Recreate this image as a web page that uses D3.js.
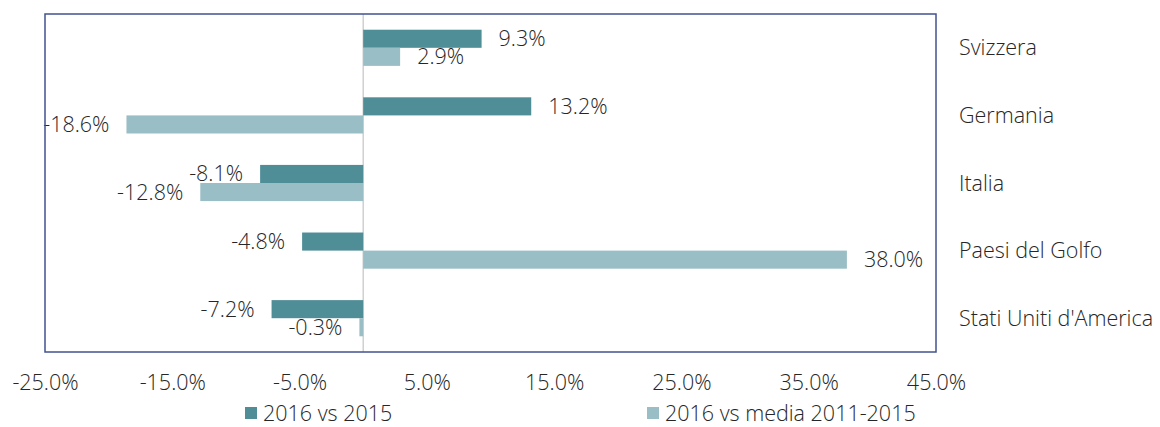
<!DOCTYPE html>
<html>
<head>
<meta charset="utf-8">
<script src="https://cdn.jsdelivr.net/npm/d3@7"></script>
<style>
  body { margin: 0; background: #fff; }
  text { font-family: "Open Sans", "Noto Sans", sans-serif; font-weight: 300; fill: #262626; }
</style>
</head>
<body>
<div id="general"></div>
<script>
const w = 1160, h = 427;
const m = { l: 45, t: 14, r: 936, b: 352 };

const categories = ["Svizzera", "Germania", "Italia", "Paesi del Golfo", "Stati Uniti d'America"];
const seriesNames = ["2016 vs 2015", "2016 vs media 2011-2015"];
const vs2015 = [9.3, 13.2, -8.1, -4.8, -7.2];
const vsMedia = [2.9, -18.6, -12.8, 38.0, -0.3];
const tickValues = [-25, -15, -5, 5, 15, 25, 35, 45];
const colors = ["#4f8d97", "#99bec5"];

const fs = 21.5;

const rows = [];
categories.forEach((c, i) => {
  rows.push({ cat: c, s: 0, v: vs2015[i] });
  rows.push({ cat: c, s: 1, v: vsMedia[i] });
});

const svg = d3.select("#general").append("svg").attr("width", w).attr("height", h);

const x = d3.scaleLinear().domain([-25, 45]).range([m.l, m.r]);
const y = d3.scaleBand().domain(categories).range([m.t, m.b]).paddingInner(0.465).paddingOuter(0.2325);
const ys = d3.scaleBand().domain([0, 1]).range([0, y.bandwidth()]);

// zero line
svg.append("line")
  .attr("x1", x(0)).attr("x2", x(0))
  .attr("y1", m.t).attr("y2", m.b)
  .attr("stroke", "#d0d0d0").attr("stroke-width", 1.5);

// bars
svg.append("g").selectAll("rect")
  .data(rows)
  .join("rect")
    .attr("x", d => Math.min(x(0), x(d.v)))
    .attr("y", d => y(d.cat) + ys(d.s))
    .attr("width", d => Math.abs(x(d.v) - x(0)))
    .attr("height", ys.bandwidth())
    .attr("fill", d => colors[d.s]);

// value labels
svg.append("g").selectAll("text")
  .data(rows)
  .join("text")
    .attr("x", d => d.v >= 0 ? x(d.v) + 17 : x(d.v) - 17)
    .attr("y", d => y(d.cat) + ys(d.s) + ys.bandwidth() / 2)
    .attr("dy", "0.35em")
    .attr("text-anchor", d => d.v >= 0 ? "start" : "end")
    .attr("font-size", fs)
    .text(d => d.v.toFixed(1) + "%");

// frame
svg.append("rect")
  .attr("x", m.l).attr("y", m.t)
  .attr("width", m.r - m.l).attr("height", m.b - m.t)
  .attr("fill", "none").attr("stroke", "#41538f").attr("stroke-width", 1.5);

// x axis labels
const xAxis = d3.axisBottom(x).tickValues(tickValues).tickSize(0).tickPadding(23)
  .tickFormat(d => d.toFixed(1) + "%");
svg.append("g")
  .attr("transform", `translate(0,${m.b})`)
  .call(xAxis)
  .call(g => g.select(".domain").remove())
  .call(g => g.selectAll("text").attr("font-size", fs).attr("font-family", null).attr("fill", "#262626"));

// category labels on the right
svg.append("g").selectAll("text")
  .data(categories)
  .join("text")
    .attr("x", 959)
    .attr("y", d => y(d) + y.bandwidth() / 2)
    .attr("dy", "0.35em")
    .attr("font-size", fs)
    .text(d => d);

// legend
const legX = [245, 647];
const leg = svg.append("g").selectAll("g")
  .data(seriesNames)
  .join("g")
    .attr("transform", (d, i) => `translate(${legX[i]},413)`);
leg.append("rect")
  .attr("x", 0).attr("y", -6).attr("width", 12).attr("height", 12)
  .attr("fill", (d, i) => colors[i]);
leg.append("text")
  .attr("x", 18).attr("dy", "0.35em")
  .attr("font-size", fs)
  .text(d => d);
</script>
</body>
</html>
